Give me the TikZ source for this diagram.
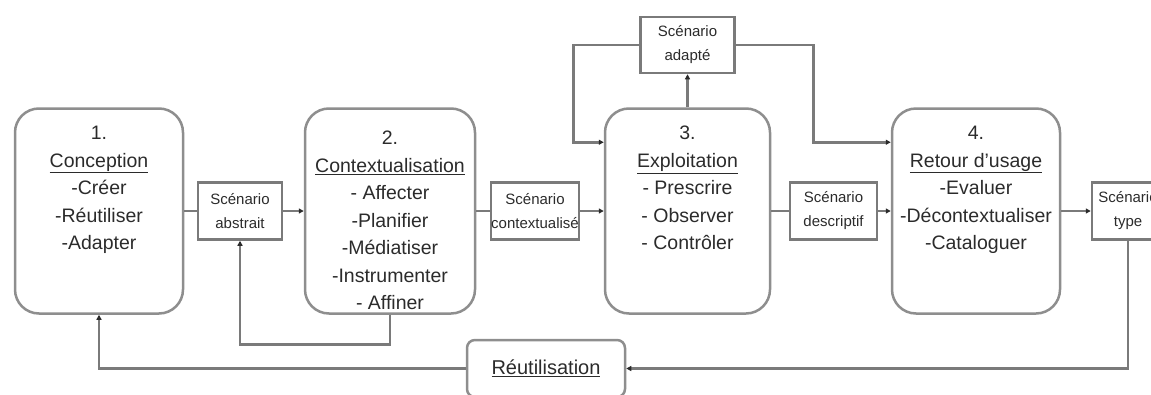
\documentclass[tikz,border=0pt]{standalone}
\usepackage{fontspec}
\setmainfont{Liberation Sans}
\usetikzlibrary{arrows.meta,calc}
\definecolor{wire}{HTML}{7A7A7A}
\definecolor{frame}{HTML}{8E8E8E}
\definecolor{ink}{HTML}{2B2B2B}
\begin{document}
\begin{tikzpicture}[x=1pt,y=-1pt,
  phase/.style={draw=frame,line width=2.5pt,rounded corners=24pt,
    minimum width=#1,minimum height=205pt,inner sep=0pt},
  phasetext/.style={font=\fontsize{19.5}{27.5}\selectfont,align=center,
    inner sep=0pt,text=ink,anchor=north},
  scen/.style={draw=wire,line width=2.5pt,minimum width=#1,minimum height=57pt,
    inner sep=0pt,font=\fontsize{15}{24}\selectfont,align=center,text=ink},
  wire/.style={draw=wire,line width=2.8pt},
  arr/.style={-{Triangle[length=5pt,width=5pt,color=ink]}}]
\useasboundingbox (0,0) rectangle (1151,394);
\clip (0,0) rectangle (1151,394);

% the four phases
\node[phase=168pt] (p1) at (99,211) {};
\node[phasetext] (t1) at (99,126) {1.\\\underline{Conception}\\-Créer\\-Réutiliser\\-Adapter};
\node[phase=170pt] (p2) at (390,211) {};
\node[phasetext] (t2) at (390,131) {2.\\\underline{Contextualisation}\\- Affecter\\-Planifier\\-Médiatiser\\-Instrumenter\\- Affiner};
\node[phase=165pt] (p3) at (687.5,211) {};
\node[phasetext] (t3) at (687.5,126) {3.\\\underline{Exploitation}\\- Prescrire\\- Observer\\- Contrôler};
\node[phase=168pt] (p4) at (976,211) {};
\node[phasetext] (t4) at (976,126) {4.\\\underline{Retour d'usage}\\-Evaluer\\-Décontextualiser\\-Cataloguer};

% scenarios passed between phases
\node[scen=84pt] (abs) at (240,211) {Scénario\\abstrait};
\node[scen=86pt] (ctx) at (535,211) {Scénario\\contextualisé};
\node[scen=87pt] (des) at (833.5,211) {Scénario\\descriptif};
\node[scen=72pt] (typ) at (1128,211) {Scénario\\type};
\node[scen=94pt,minimum height=56pt] (ada) at (687.5,45) {Scénario\\adapté};

% reuse
\node[draw=frame,line width=2.5pt,rounded corners=8pt,minimum width=158pt,
  minimum height=57pt,inner sep=0pt,font=\fontsize{20}{24}\selectfont,text=ink]
  (reuse) at (546,368.5) {\underline{Réutilisation}};

% entry points on the left side of phases 3 and 4
\coordinate (k3) at ($(p3.north west)+(0,35)$);
\coordinate (k4) at ($(p4.north west)+(0,35)$);

% main flow
\draw[wire] (p1.east) -- (abs.west);
\draw[wire,arr] (abs.east) -- (p2.west);
\draw[wire] (p2.east) -- (ctx.west);
\draw[wire,arr] (ctx.east) -- (p3.west);
\draw[wire] (p3.east) -- (des.west);
\draw[wire,arr] (des.east) -- (p4.west);
\draw[wire,arr] (p4.east) -- (typ.west);

% adaptation loop around phase 3
\draw[wire,arr] (p3.north) -- (ada.south);
\draw[wire,arr] (ada.west) -| ($(k3)+(-30,0)$) -- (k3);
\draw[wire,arr] (ada.east) -| ($(k4)+(-77,0)$) -- (k4);

% refinement loop and reuse loop
\draw[wire,arr] (p2.south) -- ++(0,30) -| (abs.south);
\draw[wire,arr] (typ.south) |- (reuse.east);
\draw[wire,arr] (reuse.west) -| (p1.south);
\end{tikzpicture}
\end{document}
